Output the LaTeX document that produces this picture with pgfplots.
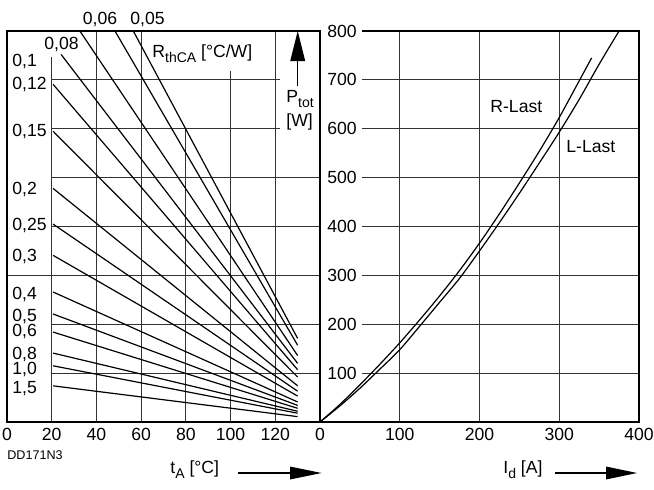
\documentclass[border=0pt]{standalone}
\usepackage{fontspec}
\setmainfont{Liberation Sans}
\usepackage{pgfplots}
\pgfplotsset{compat=1.18}

\tikzset{
  grd/.style={black!80, line width=0.6pt},
  frm/.style={black, line width=0.7pt},
  l/.style={black, line width=0.6pt, no markers},
  lab/.style={inner sep=0pt, anchor=west, text height=6.3pt, text depth=0pt},
}
\newcommand{\fs}{\fontsize{8.8}{10}\selectfont}
\newcommand{\sub}[1]{\raisebox{-2.6pt}{\fontsize{7}{8}\selectfont #1}}

\begin{document}
\fs
\begin{tikzpicture}
\useasboundingbox (0,0) rectangle (327pt,244.5pt);

% left: P_tot over t_A for the R_thCA values
\begin{axis}[
  at={(3.5pt,33.5pt)}, anchor=south west, scale only axis,
  width=156.5pt, height=195.5pt,
  xmin=0, xmax=140, ymin=0, ymax=800,
  xtick={0,20,...,120}, ytick=\empty,
  major tick length=0pt,
  axis line style={draw=none},
  ticklabel style={font=\fs},
  /pgf/number format/assume math mode=true,
  clip=false,
]
  \draw[grd] (20,746) -- (20,0);
  \draw[grd] (40,0) -- (40,800);
  \draw[grd] (60,0) -- (60,800);
  \draw[grd] (80,600) -- (80,0);
  \draw[grd] (100,718) -- (100,0);
  \draw[grd] (120,0) -- (120,800);
  \draw[grd] (20,700) -- (122,700);
  \draw[grd] (20,600) -- (122,600);
  \draw[grd] (20,500) -- (140,500);
  \draw[grd] (20,400) -- (140,400);
  \draw[grd] (0,300) -- (140,300);
  \draw[grd] (20,200) -- (140,200);
  \draw[grd] (20,100) -- (140,100);
  \draw[frm] (0,0) rectangle (140,800);

  \addplot[l] coordinates {(56.5,800) (130,171)}; % 0,05
  \addplot[l] coordinates {(48.3,800) (130,157)}; % 0,06
  \addplot[l] coordinates {(32.6,800) (130,136)}; % 0,08
  \addplot[l] coordinates {(24.2,752) (130,120)}; % 0,1
  \addplot[l] coordinates {(20.6,691) (130,107)}; % 0,12
  \addplot[l] coordinates {(20.6,595) (130,92)};  % 0,15
  \addplot[l] coordinates {(20.6,478) (130,74)};  % 0,2
  \addplot[l] coordinates {(20.6,405) (130,63)};  % 0,25
  \addplot[l] coordinates {(20.6,341) (130,53)};  % 0,3
  \addplot[l] coordinates {(20.6,266) (130,41)};  % 0,4
  \addplot[l] coordinates {(20.6,221) (130,34)};  % 0,5
  \addplot[l] coordinates {(20.6,184) (130,28)};  % 0,6
  \addplot[l] coordinates {(20.6,141) (130,22)};  % 0,8
  \addplot[l] coordinates {(20.6,115) (130,18)};  % 1,0
  \addplot[l] coordinates {(20.6,74) (130,11)};   % 1,5
\end{axis}

% right: P_tot over I_d
\begin{axis}[
  at={(160pt,33.5pt)}, anchor=south west, scale only axis,
  width=159.5pt, height=195.5pt,
  xmin=0, xmax=400, ymin=0, ymax=800,
  xtick={0,100,...,400}, ytick={100,200,...,800},
  major tick length=0pt,
  axis line style={draw=none},
  ticklabel style={font=\fs},
  yticklabel style={anchor=east, xshift=21.5pt},
  /pgf/number format/assume math mode=true,
  clip=false,
]
  \foreach \v in {100,200,...,700} {\edef\tmp{\noexpand\draw[grd] (52.7,\v) -- (400,\v);}\tmp}
  \draw[grd] (100,0) -- (100,800);
  \draw[grd] (200,0) -- (200,800);
  \draw[grd] (300,0) -- (300,800);
  \draw[frm] (52.7,800) -- (400,800) -- (400,0) -- (0,0) -- (0,800);

  % R-Last
  \addplot[l, smooth] coordinates {(0,0) (25,36) (50,76) (75,118) (100,162) (125,209)
    (150,258) (175,310) (200,366) (225,426) (250,489) (275,554) (300,623) (325,698) (340.6,745)};
  % L-Last
  \addplot[l, smooth] coordinates {(0,0) (25,33) (50,69) (75,108) (100,148) (125,196)
    (150,245) (175,294) (200,350) (225,408) (250,468) (275,530) (300,593) (325,660)
    (350,732) (375,800)};
\end{axis}

% labels, in pixel units of the reference (y downwards)
\begin{scope}[shift={(0pt,244.5pt)}, x=0.5pt, y=-0.5pt]
  \node[lab, anchor=center] at (147.5,18) {0,05};
  \node[lab, anchor=center] at (100,18) {0,06};
  \node[lab, anchor=center] at (61.5,43) {0,08};
  \node[lab] at (12,60) {0,1};
  \node[lab] at (12,83) {0,12};
  \node[lab] at (12,130) {0,15};
  \node[lab] at (12,188) {0,2};
  \node[lab] at (12,224) {0,25};
  \node[lab] at (12,255) {0,3};
  \node[lab] at (12,293) {0,4};
  \node[lab] at (12,315) {0,5};
  \node[lab] at (12,330) {0,6};
  \node[lab] at (12,353) {0,8};
  \node[lab] at (12,368) {1,0};
  \node[lab] at (12,387) {1,5};
  \node[inner sep=0pt, anchor=base west] at (152,57) {R\sub{thCA} [°C/W]};
  \node[inner sep=0pt, anchor=base west] at (286,102) {P\sub{tot}};
  \node[inner sep=0pt, anchor=base west] at (286,126) {[W]};
  \draw[line width=0.7pt] (297.7,86) -- (297.7,60);
  \fill (290.2,61) -- (305.2,61) -- (297.7,31) -- cycle;

  \node[inner sep=0pt, anchor=base west] at (490,112) {R-Last};
  \node[inner sep=0pt, anchor=base west] at (566,152) {L-Last};

  \node[inner sep=0pt, font=\fontsize{6.3}{7}\selectfont] at (35,455) {DD171N3};
  \node[inner sep=0pt, anchor=base west] at (170,473) {t\sub{A} [°C]};
  \draw[line width=0.6pt] (238,473) -- (291,473);
  \fill (290,466.5) -- (290,479.5) -- (321.5,473) -- cycle;
  \node[inner sep=0pt, anchor=base west] at (503,473) {I\sub{d} [A]};
  \draw[line width=0.6pt] (555,473) -- (607,473);
  \fill (606,466.5) -- (606,479.5) -- (637,473) -- cycle;
\end{scope}
\end{tikzpicture}
\end{document}
